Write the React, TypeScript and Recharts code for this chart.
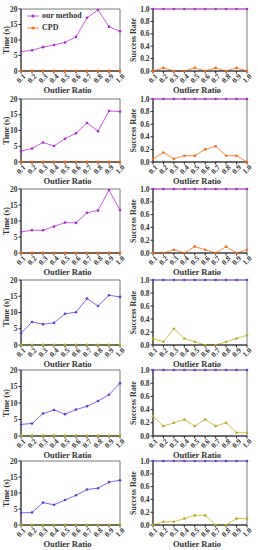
import React from 'react';
import { LineChart, Line, XAxis, YAxis, ReferenceArea, Legend, Label } from 'recharts';

const categories = ['0.1', '0.2', '0.3', '0.4', '0.5', '0.6', '0.7', '0.8', '0.9', '1.0'];
const timeTicks = [0, 5, 10, 15, 20];
const rateTicks = [0, 0.2, 0.4, 0.6, 0.8, 1.0];

const time1 = [6.2, 6.7, 7.7, 8.4, 9.2, 11.0, 17.2, 19.7, 14.3, 12.8];
const time2 = [3.5, 4.3, 6.2, 5.1, 7.4, 9.1, 12.4, 9.8, 16.2, 16.0];
const time3 = [6.6, 7.1, 7.1, 8.3, 9.5, 9.4, 12.6, 13.3, 19.7, 13.4];
const time4 = [3.6, 7.1, 6.4, 6.8, 9.6, 10.1, 14.3, 12.0, 15.3, 14.8];
const time5 = [3.5, 3.8, 6.8, 7.9, 6.6, 8.0, 9.0, 10.6, 12.5, 16.0];
const time6 = [3.8, 3.9, 7.0, 6.3, 7.8, 9.3, 11.1, 11.5, 13.4, 14.0];
const cpdTime = [0.1, 0.1, 0.1, 0.1, 0.1, 0.1, 0.1, 0.1, 0.1, 0.1];

const ourRate = [1, 1, 1, 1, 1, 1, 1, 1, 1, 1];
const cpdRate1 = [0, 0.05, 0, 0, 0.05, 0, 0.05, 0, 0.05, 0];
const cpdRate2 = [0.05, 0.15, 0.05, 0.1, 0.1, 0.2, 0.25, 0.1, 0.1, 0.0];
const cpdRate3 = [0, 0, 0.05, 0, 0.1, 0.05, 0, 0.1, 0, 0.05];
const cpdRate4 = [0.1, 0.05, 0.25, 0.1, 0.05, 0, 0, 0.05, 0.1, 0.15];
const cpdRate5 = [0.3, 0.15, 0.2, 0.25, 0.15, 0.25, 0.15, 0.2, 0.05, 0.05];
const cpdRate6 = [0, 0.05, 0.05, 0.1, 0.15, 0.15, 0, 0, 0.1, 0.1];

const ourTimes = [time1, time2, time3, time4, time5, time6];
const cpdRates = [cpdRate1, cpdRate2, cpdRate3, cpdRate4, cpdRate5, cpdRate6];

const FONT = '"Liberation Serif", "Times New Roman", serif';

const rowsLayout = [
  { t: 9, b: 71 },
  { t: 99, b: 162 },
  { t: 189, b: 253 },
  { t: 280, b: 345 },
  { t: 370, b: 436 },
  { t: 461, b: 525 },
];

const palettes = [
  { our: '#CC5BE0', ourDot: '#A52FC4', cpd: '#FF8A3D', cpdDot: '#F06A1A' },
  { our: '#8666E6', ourDot: '#5E3FCF', cpd: '#CFC447', cpdDot: '#B3A82A' },
];

const XTick = (props: any) => {
  const { x, y, payload } = props;
  const cy = y + 3;
  return (
    <text
      x={x}
      y={cy}
      textAnchor="middle"
      dominantBaseline="central"
      transform={`rotate(-45, ${x}, ${cy})`}
      fontSize={7.5}
      fontWeight="bold"
      fontFamily={FONT}
      fill="#333"
    >
      {payload.value}
    </text>
  );
};

const makeYLabel = (text: string, cxAbs: number) => (p: any) => {
  const vb = p.viewBox || {};
  const cy = (vb.y || 0) + (vb.height || 0) / 2;
  return (
    <text
      x={cxAbs}
      y={cy}
      textAnchor="middle"
      dominantBaseline="central"
      transform={`rotate(-90, ${cxAbs}, ${cy})`}
      fontSize={8}
      fontWeight="bold"
      fontFamily={FONT}
      fill="#333"
    >
      {text}
    </text>
  );
};

const LegendContent = (pal: any) => () => (
  <div style={{ fontFamily: FONT, fontWeight: 'bold', fontSize: 8, color: '#333', lineHeight: '12px' }}>
    {[
      { name: 'our method', c: pal.our, d: pal.ourDot },
      { name: 'CPD', c: pal.cpd, d: pal.cpdDot },
    ].map((it) => (
      <div key={it.name} style={{ display: 'flex', alignItems: 'center', whiteSpace: 'nowrap' }}>
        <svg width={12} height={6} style={{ marginRight: 3 }}>
          <line x1={0} y1={3} x2={12} y2={3} stroke={it.c} strokeWidth={1} />
          <circle cx={6} cy={3} r={1.6} fill={it.d} />
        </svg>
        <span>{it.name}</span>
      </div>
    ))}
  </div>
);

const Panel = ({ row, kind }: { row: number; kind: 'time' | 'rate' }) => {
  const lay = rowsLayout[row];
  const pal = palettes[row < 3 ? 0 : 1];
  const isTime = kind === 'time';
  const ourVals = isTime ? ourTimes[row] : ourRate;
  const cpdVals = isTime ? cpdTime : cpdRates[row];
  const data = categories.map((c, i) => ({ cat: c, our: ourVals[i], cpd: cpdVals[i] }));
  const xAxisH = 24;
  const top = lay.t - 9;
  const height = lay.b - lay.t + 9 + xAxisH;
  const left = isTime ? 0 : 128;
  const width = isTime ? 128 : 130;
  const yW = isTime ? 21 : 25;
  const mRight = isTime ? 8 : 11;
  const yMax = isTime ? 20 : 1;
  return (
    <div style={{ position: 'absolute', left, top, width, height }}>
      <LineChart width={width} height={height} data={data} margin={{ top: 9, right: mRight, bottom: 0, left: 0 }}>
        <ReferenceArea x1="0.1" x2="1.0" y1={0} y2={yMax} fill="none" stroke="#555" strokeWidth={0.8} ifOverflow="visible" />
        <XAxis
          dataKey="cat"
          height={xAxisH}
          tick={<XTick />}
          tickSize={2.5}
          tickMargin={2}
          interval={0}
          stroke="#222"
          label={{ value: 'Outlier Ratio', position: 'insideBottom', offset: 2, dx: -3, fontSize: 8.5, fontWeight: 'bold', fontFamily: FONT, fill: '#333' }}
        />
        <YAxis
          width={yW}
          domain={[0, yMax]}
          ticks={isTime ? timeTicks : rateTicks}
          tickFormatter={(v: number) => (isTime ? String(v) : v.toFixed(1))}
          tickSize={2.5}
          tickMargin={1}
          interval={0}
          stroke="#222"
          tick={{ fontSize: 7.5, fontWeight: 'bold', fontFamily: FONT, fill: '#333' }}
        >
          <Label content={makeYLabel(isTime ? 'Time (s)' : 'Success Rate', isTime ? 6 : 5)} />
        </YAxis>
        {isTime && row === 0 ? (
          <Legend
            layout="vertical"
            align="center"
            verticalAlign="middle"
            content={LegendContent(pal)}
            wrapperStyle={{ left: 27, top: 10, width: 'auto', height: 'auto' }}
          />
        ) : null}
        <Line
          type="linear"
          dataKey="cpd"
          name="CPD"
          stroke={pal.cpd}
          strokeWidth={1}
          dot={{ r: 1.3, fill: pal.cpdDot, stroke: pal.cpdDot, strokeWidth: 0 }}
          isAnimationActive={false}
        />
        <Line
          type="linear"
          dataKey="our"
          name="our method"
          stroke={pal.our}
          strokeWidth={1}
          dot={{ r: 1.3, fill: pal.ourDot, stroke: pal.ourDot, strokeWidth: 0 }}
          isAnimationActive={false}
        />
      </LineChart>
    </div>
  );
};

export default function App() {
  return (
    <div style={{ position: 'absolute', left: 0, top: 0, width: 258, height: 550, background: '#fff', overflow: 'hidden' }}>
      {rowsLayout.map((_, r) => (
        <React.Fragment key={r}>
          <Panel row={r} kind="time" />
          <Panel row={r} kind="rate" />
        </React.Fragment>
      ))}
    </div>
  );
}
